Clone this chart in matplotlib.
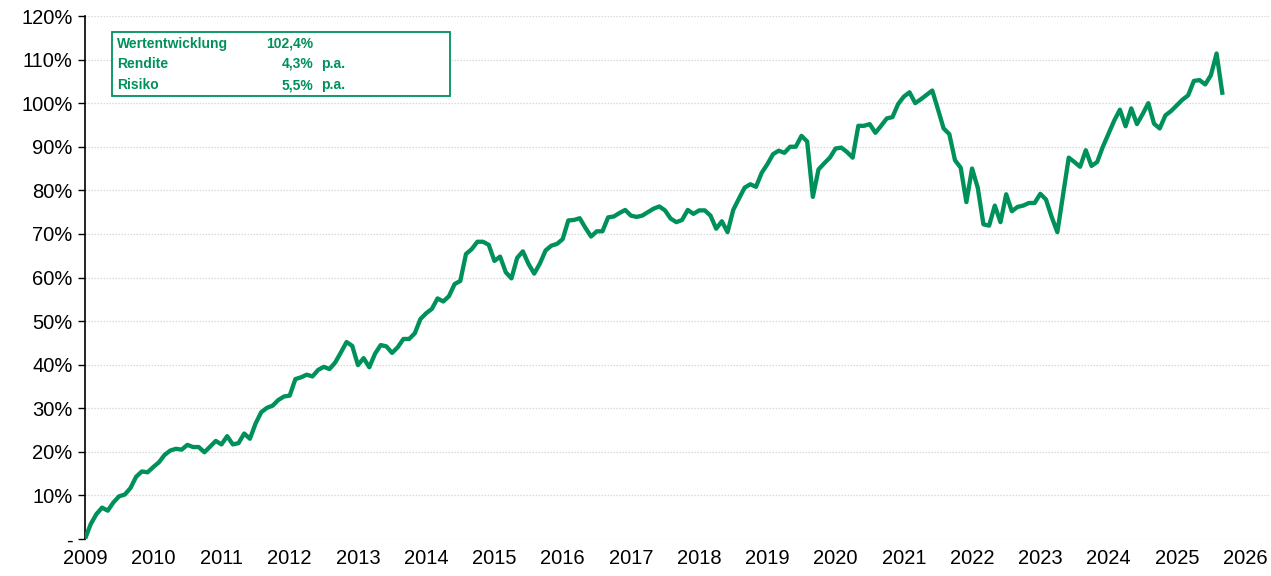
import matplotlib.pyplot as plt
import numpy as np
from matplotlib.patches import Rectangle

plt.rcParams["font.family"] = ["Liberation Sans", "DejaVu Sans"]

GREEN = "#00915A"

# monthly cumulative performance in %, Jan 2009 .. Sep 2025
values = [
    0.0, 3.4, 5.7, 7.2, 6.5, 8.4, 9.8, 10.2, 11.7, 14.3, 15.5, 15.3,  # 2009
    16.5, 17.6, 19.3, 20.3, 20.7, 20.5, 21.6, 21.1, 21.1, 19.9, 21.2, 22.5,  # 2010
    21.7, 23.6, 21.7, 22.0, 24.2, 23.0, 26.5, 29.1, 30.1, 30.6, 31.9, 32.7,  # 2011
    32.9, 36.7, 37.1, 37.7, 37.3, 38.8, 39.5, 39.0, 40.5, 42.8, 45.2, 44.3,  # 2012
    39.9, 41.5, 39.4, 42.5, 44.5, 44.2, 42.7, 44.0, 45.9, 45.9, 47.2, 50.5,  # 2013
    51.8, 52.8, 55.2, 54.5, 55.7, 58.5, 59.2, 65.4, 66.5, 68.2, 68.2, 67.5,  # 2014
    63.8, 64.8, 61.2, 59.8, 64.5, 66.0, 63.1, 60.9, 63.2, 66.2, 67.3, 67.7,  # 2015
    68.8, 73.1, 73.2, 73.6, 71.4, 69.4, 70.6, 70.6, 73.8, 74.0, 74.8, 75.5,  # 2016
    74.2, 73.9, 74.2, 75.0, 75.8, 76.3, 75.4, 73.5, 72.7, 73.2, 75.5, 74.6,  # 2017
    75.4, 75.4, 74.2, 71.2, 72.9, 70.4, 75.5, 78.1, 80.6, 81.4, 80.8, 84.0,  # 2018
    86.0, 88.3, 89.1, 88.6, 90.0, 90.0, 92.5, 91.2, 78.5, 84.8, 86.2, 87.5,  # 2019
    89.6, 89.8, 88.8, 87.5, 94.8, 94.8, 95.2, 93.2, 94.8, 96.5, 96.8, 99.8,  # 2020
    101.5, 102.5, 100.0, 100.9, 101.9, 102.9, 98.6, 94.2, 92.9, 86.9, 85.2, 77.3,  # 2021
    85.0, 80.6, 72.2, 71.9, 76.5, 72.7, 79.1, 75.2, 76.2, 76.5, 77.1, 77.1,  # 2022
    79.2, 77.9, 73.9, 70.4, 79.0, 87.5, 86.5, 85.4, 89.2, 85.6, 86.5, 90.0,  # 2023
    93.0, 96.0, 98.5, 94.7, 98.8, 95.2, 97.5, 100.0, 95.3, 94.2, 97.2, 98.2,  # 2024
    99.5, 100.8, 101.8, 105.1, 105.3, 104.3, 106.4, 111.4, 102.4,  # 2025
]
start_year = 2009
years = list(range(2009, 2027))
y_ticks = list(range(0, 121, 10))
y_labels = ["-"] + [f"{v}%" for v in y_ticks[1:]]

stat_names = ["Wertentwicklung", "Rendite", "Risiko"]
stat_values = ["102,4%", "4,3%", "5,5%"]
stat_units = ["", "p.a.", "p.a."]

W, H = 1271, 576
fig = plt.figure(figsize=(W / 100, H / 100), dpi=100)
ax = fig.add_axes([85 / W, 1 - 539 / H, (1270 - 85) / W, (539 - 16) / H])

x = start_year + np.arange(len(values)) / 12
ax.plot(x, values, color=GREEN, lw=3.1, solid_joinstyle="round", zorder=3)

ax.set_xlim(2009, 2026 + 25 / 68.24)
ax.set_ylim(0, 120)
ax.set_xticks(years)
ax.set_xticklabels([str(y) for y in years])
ax.set_yticks(y_ticks)
ax.set_yticklabels(y_labels)

ax.tick_params(axis="x", length=0, pad=7, labelsize=14.5)
ax.tick_params(axis="y", length=5, width=1, direction="out", pad=4, labelsize=14.5)
for side in ["top", "right", "bottom"]:
    ax.spines[side].set_visible(False)
ax.spines["left"].set_linewidth(1.2)

ax.grid(axis="y", color="#d9d9d9", lw=0.9, linestyle=(0, (1.2, 1.2)), zorder=0)
ax.set_axisbelow(True)


def fx(px):
    return px / W


def fy(py):
    return 1 - py / H


box = Rectangle((fx(112), fy(96)), fx(450) - fx(112), fy(32) - fy(96),
                transform=fig.transFigure, fill=True, facecolor="white",
                edgecolor=GREEN, lw=1.3, zorder=5)
fig.patches.append(box)

row_y = [44, 64, 85]
for name, val, unit, ry in zip(stat_names, stat_values, stat_units, row_y):
    kw = dict(color=GREEN, fontsize=10, fontweight="bold", va="center",
              transform=fig.transFigure, zorder=6)
    fig.text(fx(117), fy(ry), name, ha="left", **kw)
    fig.text(fx(313), fy(ry), val, ha="right", **kw)
    if unit:
        fig.text(fx(321), fy(ry), unit, ha="left", **kw)

fig.savefig("out.png", dpi=100)
